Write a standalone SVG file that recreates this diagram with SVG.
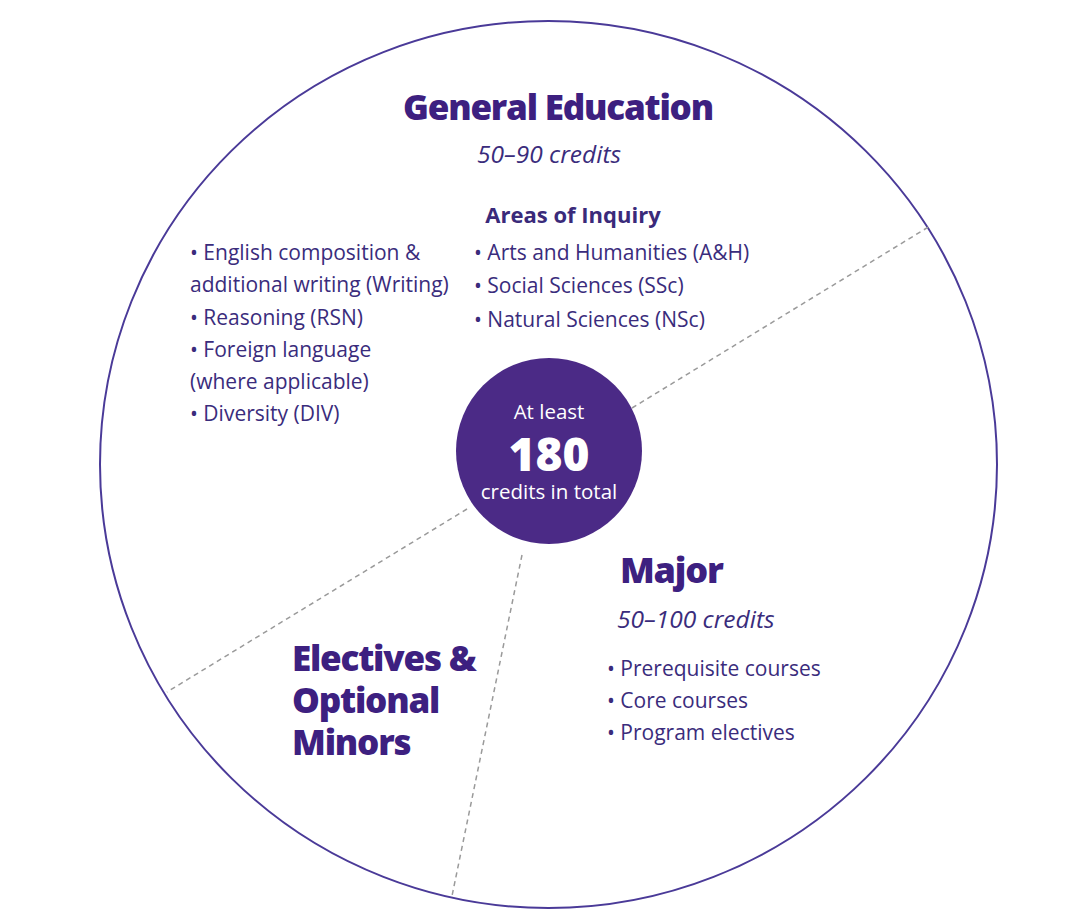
<svg xmlns="http://www.w3.org/2000/svg" width="1080" height="912" viewBox="0 0 1080 912">
<style>
.head{font-family:"Open Sans","Liberation Sans",sans-serif;font-weight:800;fill:#3d2080;letter-spacing:-1.2px}
.sub{font-family:"Open Sans","Liberation Sans",sans-serif;font-style:italic;fill:#3a2c7c;font-size:24.5px}
.body{font-family:"Open Sans","Liberation Sans",sans-serif;fill:#3a2c7c;font-size:21px}
.bold{font-family:"Open Sans","Liberation Sans",sans-serif;font-weight:700;fill:#3a2a7a;font-size:22px}
.white{font-family:"Open Sans","Liberation Sans",sans-serif;fill:#ffffff;text-anchor:middle}
.dash{stroke:#9a9a9a;stroke-width:1.5;stroke-dasharray:5 4;fill:none}
</style>
<rect width="1080" height="912" fill="#ffffff"/>
<g id="outer-circle">
<ellipse cx="548.5" cy="464.5" rx="448.5" ry="443.5" fill="#ffffff" stroke="#4a3a98" stroke-width="2"/>
</g>
<g id="connectors">
<line class="dash" x1="632" y1="408" x2="930" y2="226"/>
<line class="dash" x1="467" y1="509" x2="167" y2="692"/>
<line class="dash" x1="522" y1="555" x2="452" y2="896"/>
</g>
<g id="general-education">
<text class="head" x="558" y="120" font-size="35" text-anchor="middle">General Education</text>
<text class="sub" x="549" y="163" text-anchor="middle">50–90 credits</text>
<text class="bold" x="573" y="223" text-anchor="middle">Areas of Inquiry</text>
<text class="body" x="190" y="260">• English composition &amp;</text>
<text class="body" x="190" y="292">additional writing (Writing)</text>
<text class="body" x="190" y="325">• Reasoning (RSN)</text>
<text class="body" x="190" y="357">• Foreign language</text>
<text class="body" x="190" y="389">(where applicable)</text>
<text class="body" x="190" y="421">• Diversity (DIV)</text>
<text class="body" x="474" y="260">• Arts and Humanities (A&amp;H)</text>
<text class="body" x="474" y="293">• Social Sciences (SSc)</text>
<text class="body" x="474" y="327">• Natural Sciences (NSc)</text>
</g>
<g id="total">
<circle cx="549" cy="451" r="93" fill="#4b2a86"/>
<text class="white" x="549" y="419" font-size="20.5">At least</text>
<text class="white" x="549" y="471" font-size="46" font-weight="800">180</text>
<text class="white" x="549" y="499" font-size="20.5">credits in total</text>
</g>
<g id="major">
<text class="head" x="620" y="583" font-size="36">Major</text>
<text class="sub" x="617" y="628">50–100 credits</text>
<text class="body" x="607" y="676">• Prerequisite courses</text>
<text class="body" x="607" y="708">• Core courses</text>
<text class="body" x="607" y="740">• Program electives</text>
</g>
<g id="electives">
<text class="head" x="292" y="671" font-size="35">Electives &amp;</text>
<text class="head" x="292" y="713" font-size="35">Optional</text>
<text class="head" x="292" y="755" font-size="35">Minors</text>
</g>
</svg>
